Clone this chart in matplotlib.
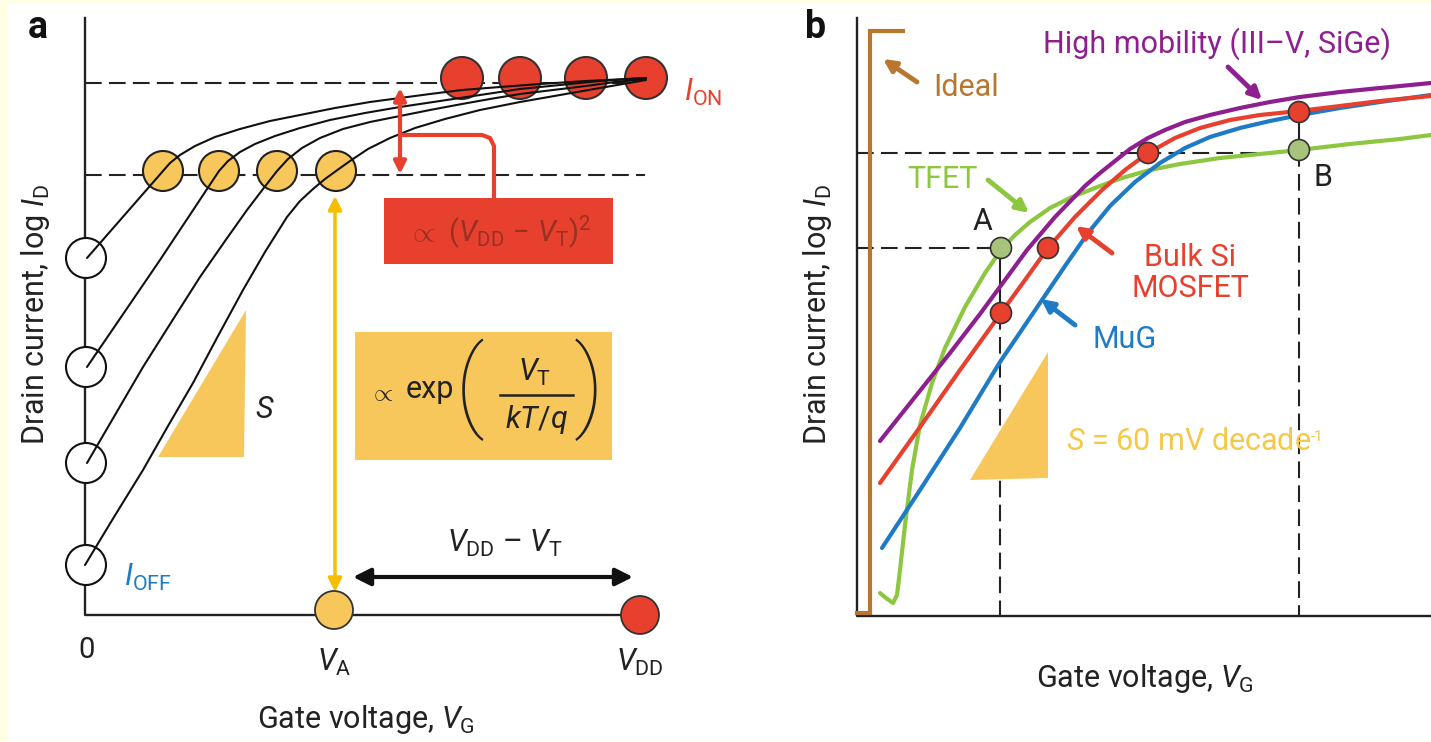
import matplotlib
matplotlib.use('Agg')
import matplotlib.pyplot as plt
from matplotlib.patches import Circle, Rectangle, Polygon

plt.rcParams['font.family'] = ['Roboto', 'DejaVu Sans']
plt.rcParams['mathtext.fontset'] = 'custom'
plt.rcParams['mathtext.rm'] = 'Roboto'
plt.rcParams['mathtext.it'] = 'Roboto:italic'
plt.rcParams['mathtext.bf'] = 'Roboto:bold'

# colours
RED = '#e8402e'
YEL = '#f8c75c'
YEL_ARROW = '#f5bf00'
BLUE = '#1f7bc4'
PURPLE = '#8e1f8e'
GREEN = '#8dc63f'
BROWN = '#b7772e'
DOT_GREEN = '#a8c47c'
INK = '#222222'

# ---------------- panel a data (schematic units = picture grid) ----------------
a_origin = (85, 615)
a_top = 18
a_vg_pos = [87, 334, 640]
a_vg_labels = ['0', r'$V_\mathrm{A}$', r'$V_\mathrm{DD}$']
a_ion_level = 83
a_vt_level = 175

a_off_y = [258, 367, 463, 565]
a_thr_x = [163, 219, 277, 336]
a_thr_y = 171
a_on_x = [462, 520, 586, 646]
a_on_y = 78

a_curves_x = [
    [87, 163, 170, 180, 195, 215, 240, 270, 300, 335, 370, 400, 430, 462, 500, 540, 586, 646],
    [87, 160, 219, 228, 240, 255, 275, 300, 330, 365, 400, 440, 480, 520, 560, 600, 646],
    [87, 115, 143, 172, 200, 225, 247, 263, 277, 288, 302, 320, 343, 370, 400, 430, 462, 490,
     520, 553, 586, 615, 646],
    [85, 114, 143, 168, 193, 218, 243, 265, 287, 300, 313, 325, 336, 350, 368, 390, 415, 445,
     480, 520, 560, 600, 646],
]
a_curves_y = [
    [258, 171, 163, 155, 146, 137, 129, 121, 115, 108, 102, 98, 94, 90, 87, 84, 81, 78],
    [367, 260, 171, 161, 152, 144, 136, 128, 120, 113, 107, 101, 95, 89, 85, 81, 78],
    [463, 415, 367, 321, 277, 241, 210, 189, 171, 159, 148, 138, 129, 122, 116, 110, 104, 99,
     94, 90, 86, 82, 79],
    [565, 517, 470, 426, 383, 336, 290, 252, 217, 201, 189, 179, 171, 161, 149, 138, 128, 119,
     110, 102, 95, 88, 80],
]

# ---------------- panel b data ----------------
b_origin = (857, 616)
b_top = 18
ideal_x = [857, 870, 870, 903]
ideal_y = [613, 613, 31, 31]

purple_x = [880, 915, 950, 980, 1005, 1027, 1055, 1085, 1100, 1115, 1130, 1148, 1165, 1185,
            1210, 1240, 1270, 1300, 1340, 1380, 1431]
purple_y = [441, 397, 353, 314, 280, 250, 217, 186, 173, 161, 149, 138, 130, 122,
            115, 108, 102, 97, 92, 88, 83]
red_x = [880, 920, 960, 1001, 1025, 1048, 1075, 1102, 1125, 1148, 1175, 1200, 1230, 1260,
         1299, 1340, 1380, 1431]
red_y = [483, 427, 370, 313, 280, 248, 217, 190, 170, 153, 138, 128, 120, 115,
         111, 106, 101, 96]
blue_x = [882, 920, 960, 1000, 1042, 1065, 1088, 1110, 1135, 1160, 1185, 1210, 1240, 1270,
          1300, 1340, 1380, 1431]
blue_y = [548, 490, 428, 362, 300, 266, 233, 206, 182, 163, 148, 137, 128, 121,
          115, 108, 102, 95]
green_x = [880, 886, 893, 897, 900, 905, 912, 920, 932, 945, 965, 985, 1001, 1015, 1030, 1050,
           1072, 1100, 1122, 1150, 1180, 1220, 1260, 1299, 1350, 1400, 1431]
green_y = [593, 598, 603, 595, 570, 525, 470, 425, 383, 348, 307, 273, 250, 235, 222, 208,
           197, 186, 178, 170, 164, 158, 154, 150, 144, 139, 135]

b_on_level = 153
b_off_level = 248
b_va = 1000
b_vb = 1299
b_red_dots_x = [1048, 1001, 1148, 1299]
b_red_dots_y = [248, 313, 153, 112]
b_green_dots_x = [1001, 1299]
b_green_dots_y = [248, 150]

fig = plt.figure(figsize=(14.31, 7.42), dpi=100)
fig.patch.set_facecolor('#ffffe4')
ax = fig.add_axes([0, 0, 1, 1])
ax.set_xlim(0, 1431)
ax.set_ylim(742, 0)
ax.axis('off')
ax.add_patch(Rectangle((8, 4), 1423, 736, color='white', zorder=0))

FS = 22
dash = (0, (8, 3.5))


def arrow(tail, head, color, lw=3, style='-|>', ms=18, z=5):
    ax.annotate('', xy=head, xytext=tail,
                arrowprops=dict(arrowstyle=style, color=color, lw=lw,
                                mutation_scale=ms, shrinkA=0, shrinkB=0),
                zorder=z)


# ================= panel a =================
ox, oy = a_origin
ax.plot([ox, ox, a_vg_pos[-1]], [a_top, oy, oy], color=INK, lw=1.7, zorder=2)
ax.plot([ox, a_on_x[-1]], [a_ion_level, a_ion_level], color=INK, lw=1.5, ls=dash, zorder=1)
ax.plot([ox, 645], [a_vt_level, a_vt_level], color=INK, lw=1.5, ls=dash, zorder=1)

for xs, ys in zip(a_curves_x, a_curves_y):
    ax.plot(xs, ys, color='#111111', lw=1.5, zorder=4, solid_capstyle='round')

for y in a_off_y:
    ax.add_patch(Circle((ox + 1, y), 20, facecolor='white', edgecolor='#111111', lw=1.5, zorder=3))
for x in a_thr_x:
    ax.add_patch(Circle((x, a_thr_y), 20, facecolor=YEL, edgecolor=INK, lw=1.5, zorder=3))
for x in a_on_x:
    ax.add_patch(Circle((x, a_on_y), 21, facecolor=RED, edgecolor='#333333', lw=1.5, zorder=3))

ax.add_patch(Circle((a_vg_pos[1], 610), 19, facecolor=YEL, edgecolor='#333333', lw=1.3, zorder=3))
ax.add_patch(Circle((a_vg_pos[2], 615), 19, facecolor=RED, edgecolor='#333333', lw=1.3, zorder=3))

# S triangle
ax.add_patch(Polygon([(158, 457), (244, 457), (246, 310)], closed=True, color=YEL, lw=0, zorder=2))
ax.text(265, 410, '$S$', fontsize=FS, ha='center', va='center', color=INK)

# red double arrow + bracket
arrow((400, 174), (400, 88), RED, lw=3, style='<|-|>', ms=18)
ax.plot([400, 482, 490, 494, 494], [135, 135, 138, 146, 198], color=RED, lw=3, zorder=5)
ax.add_patch(Rectangle((384, 198), 229, 66, color=RED, lw=0, zorder=2))
ax.text(500, 232, r'$\propto\ (V_\mathrm{DD}\ \mathrm{-}\ V_\mathrm{T})^2$', fontsize=21,
        ha='center', va='center', color='#9a3022', zorder=6)

# yellow box with exp(V_T / (kT/q))
ax.add_patch(Rectangle((355, 332), 257, 128, color=YEL, lw=0, zorder=2))
ax.text(381, 393, r'$\propto$', fontsize=18, ha='center', va='center', color=INK, zorder=6)
ax.text(430, 390, 'exp', fontsize=FS, ha='center', va='center', color=INK, zorder=6)
ax.text(470, 390, '(', fontsize=72, fontweight='light', ha='center', va='center', color=INK, zorder=6)
ax.text(589, 390, ')', fontsize=72, fontweight='light', ha='center', va='center', color=INK, zorder=6)
ax.text(535, 372, r'$V_\mathrm{T}$', fontsize=FS, ha='center', va='center', color=INK, zorder=6)
ax.plot([500, 573], [395, 395], color=INK, lw=1.8, zorder=6)
ax.text(537, 420, r'$kT/q$', fontsize=FS, ha='center', va='center', color=INK, zorder=6)

# yellow vertical arrow
arrow((335, 592), (335, 196), YEL_ARROW, lw=2.5, style='<|-|>', ms=20)
# black horizontal arrow
arrow((353, 577), (633, 577), '#111111', lw=3, style='<|-|>', ms=26)
ax.text(505, 543, r'$V_\mathrm{DD}$ – $V_\mathrm{T}$', fontsize=FS, ha='center', va='center', color=INK)

ax.text(684, 92, r'$I_\mathrm{ON}$', fontsize=FS, ha='left', va='center', color=RED)
ax.text(124, 577, r'$I_\mathrm{OFF}$', fontsize=FS, ha='left', va='center', color=BLUE)

ax.text(a_vg_pos[0], 658, a_vg_labels[0], fontsize=21, ha='center', va='baseline', color=INK)
for x, lab in zip(a_vg_pos[1:], a_vg_labels[1:]):
    ax.text(x, 671, lab, fontsize=FS, ha='center', va='baseline', color=INK)

ax.text(366, 728, r'Gate voltage, $V_\mathrm{G}$', fontsize=FS, ha='center', va='baseline', color=INK)
ax.text(36, 314, r'Drain current, log $I_\mathrm{D}$', fontsize=FS, rotation=90,
        ha='center', va='center', color=INK)
ax.text(38, 27, 'a', fontsize=27, fontweight='bold', ha='center', va='center', color='#111111')

# ================= panel b =================
bx, by = b_origin
ax.plot([bx, bx, 1431], [b_top, by, by], color=INK, lw=1.7, zorder=2)
ax.plot(ideal_x, ideal_y, color=BROWN, lw=3, zorder=3, solid_joinstyle='miter')

ax.plot([bx, b_vb], [b_on_level, b_on_level], color=INK, lw=1.5, ls=dash, zorder=1)
ax.plot([bx, b_va], [b_off_level, b_off_level], color=INK, lw=1.5, ls=dash, zorder=1)
ax.plot([b_va, b_va], [b_red_dots_y[1], by], color=INK, lw=1.5, ls=dash, zorder=1)
ax.plot([b_vb, b_vb], [b_green_dots_y[1], by], color=INK, lw=1.5, ls=dash, zorder=1)
ax.plot([b_va, b_va], [b_off_level, b_red_dots_y[1]], color=INK, lw=1.5, zorder=1)
ax.plot([b_vb, b_vb], [b_red_dots_y[3], b_green_dots_y[1]], color=INK, lw=1.5, zorder=1)

ax.add_patch(Polygon([(970, 480), (1048, 478), (1048, 352)], closed=True, color=YEL, lw=0, zorder=1.5))

ax.plot(green_x, green_y, color=GREEN, lw=3, zorder=3, solid_capstyle='round')
ax.plot(blue_x, blue_y, color=BLUE, lw=3, zorder=3.1, solid_capstyle='round')
ax.plot(red_x, red_y, color=RED, lw=3, zorder=3.2, solid_capstyle='round')
ax.plot(purple_x, purple_y, color=PURPLE, lw=3, zorder=3.3, solid_capstyle='round')

for x, y in zip(b_red_dots_x, b_red_dots_y):
    ax.add_patch(Circle((x, y), 10.5, facecolor=RED, edgecolor='#333333', lw=1.2, zorder=6))
for x, y in zip(b_green_dots_x, b_green_dots_y):
    ax.add_patch(Circle((x, y), 10.5, facecolor=DOT_GREEN, edgecolor='#333333', lw=1.2, zorder=6))

ax.text(1217, 44, 'High mobility (III–V, SiGe)', fontsize=FS, ha='center', va='center', color=PURPLE)
arrow((1228, 67), (1262, 100), PURPLE, lw=3.5)
ax.text(966, 88, 'Ideal', fontsize=FS, ha='center', va='center', color=BROWN)
arrow((917, 82), (883, 59), BROWN, lw=3.5)
ax.text(942, 180, 'TFET', fontsize=FS, ha='center', va='center', color=GREEN)
arrow((988, 180), (1029, 213), GREEN, lw=3.5)
ax.text(1190, 273, 'Bulk Si\nMOSFET', fontsize=FS, ha='center', va='center', color=RED, linespacing=1.05)
arrow((1112, 253), (1076, 226), RED, lw=3.5)
ax.text(1125, 339, 'MuG', fontsize=FS, ha='center', va='center', color=BLUE)
arrow((1075, 325), (1041, 299), BLUE, lw=3.5)
ax.text(983, 222, 'A', fontsize=FS, ha='center', va='center', color=INK)
ax.text(1323, 177, 'B', fontsize=FS, ha='center', va='center', color=INK)
s_txt = ax.text(1066, 441, r'$S$ = 60 mV decade', fontsize=FS, ha='left', va='center', color='#f5c84a')
ax.annotate('-1', xy=(1.0, 0.88), xycoords=s_txt, fontsize=11, ha='left', va='top', color='#f5c84a')

ax.text(1145, 687, r'Gate voltage, $V_\mathrm{G}$', fontsize=FS, ha='center', va='baseline', color=INK)
ax.text(818, 314, r'Drain current, log $I_\mathrm{D}$', fontsize=FS, rotation=90,
        ha='center', va='center', color=INK)
ax.text(816, 27, 'b', fontsize=27, fontweight='bold', ha='center', va='center', color='#111111')

fig.savefig('out.png', dpi=100, facecolor=fig.get_facecolor())
